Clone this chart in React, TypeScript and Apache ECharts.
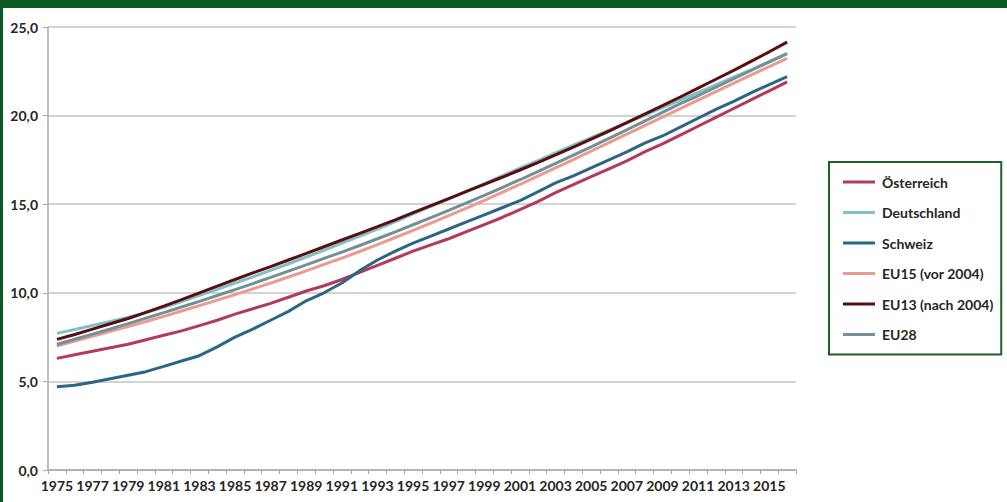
import React, { useEffect, useRef } from "react";
import * as echarts from "echarts";

const years: string[] = [];
for (let y = 1975; y <= 2016; y++) years.push(String(y));

const yTicks = ["0,0", "5,0", "10,0", "15,0", "20,0", "25,0"];

const oesterreich = [6.3, 6.5, 6.7, 6.9, 7.1, 7.35, 7.6, 7.85, 8.15, 8.45, 8.8, 9.1, 9.4, 9.75, 10.1, 10.4, 10.75, 11.15, 11.55, 11.95, 12.35, 12.7, 13.05, 13.45, 13.85, 14.25, 14.7, 15.15, 15.65, 16.1, 16.55, 17.0, 17.45, 17.95, 18.4, 18.9, 19.4, 19.9, 20.4, 20.9, 21.4, 21.9];
const deutschland = [7.71, 7.93, 8.15, 8.38, 8.62, 8.88, 9.18, 9.5, 9.85, 10.2, 10.55, 10.9, 11.27, 11.64, 12.02, 12.4, 12.8, 13.2, 13.6, 14.02, 14.45, 14.88, 15.3, 15.73, 16.16, 16.6, 17.03, 17.46, 17.9, 18.33, 18.76, 19.18, 19.6, 20.02, 20.45, 20.88, 21.3, 21.73, 22.17, 22.6, 23.05, 23.5];
const schweiz = [4.7, 4.78, 4.95, 5.15, 5.35, 5.55, 5.85, 6.15, 6.45, 6.95, 7.5, 7.95, 8.45, 8.95, 9.55, 10.0, 10.55, 11.25, 11.85, 12.35, 12.8, 13.2, 13.6, 14.0, 14.4, 14.8, 15.2, 15.7, 16.2, 16.6, 17.05, 17.5, 17.95, 18.45, 18.85, 19.35, 19.85, 20.35, 20.8, 21.3, 21.75, 22.2];
const eu15 = [7.0, 7.27, 7.54, 7.82, 8.1, 8.38, 8.67, 8.97, 9.28, 9.59, 9.9, 10.22, 10.55, 10.89, 11.24, 11.6, 11.96, 12.33, 12.72, 13.12, 13.52, 13.93, 14.35, 14.78, 15.22, 15.67, 16.12, 16.58, 17.05, 17.52, 17.99, 18.47, 18.95, 19.43, 19.91, 20.39, 20.87, 21.35, 21.83, 22.3, 22.77, 23.23];
const eu13 = [7.37, 7.65, 7.95, 8.25, 8.55, 8.9, 9.25, 9.62, 10.0, 10.38, 10.75, 11.12, 11.48, 11.85, 12.22, 12.6, 12.98, 13.35, 13.73, 14.12, 14.52, 14.92, 15.32, 15.72, 16.12, 16.52, 16.93, 17.35, 17.78, 18.22, 18.67, 19.13, 19.6, 20.08, 20.56, 21.05, 21.55, 22.05, 22.55, 23.07, 23.6, 24.15];
const eu28 = [7.1, 7.38, 7.67, 7.96, 8.26, 8.57, 8.88, 9.2, 9.52, 9.85, 10.18, 10.52, 10.87, 11.22, 11.58, 11.94, 12.3, 12.67, 13.05, 13.44, 13.84, 14.24, 14.65, 15.07, 15.5, 15.94, 16.38, 16.84, 17.3, 17.77, 18.24, 18.72, 19.2, 19.69, 20.18, 20.68, 21.12, 21.6, 22.08, 22.56, 23.03, 23.5];

const seriesNames = ["Österreich", "Deutschland", "Schweiz", "EU15 (vor 2004)", "EU13 (nach 2004)", "EU28"];
const seriesData = [oesterreich, deutschland, schweiz, eu15, eu13, eu28];
const seriesColors = ["#b23a5c", "#80c0c8", "#2c6686", "#eb9a8e", "#5a0f0c", "#70909a"];

export default function App() {
  const ref = useRef<HTMLDivElement>(null);
  useEffect(() => {
    if (!ref.current) return;
    const chart = echarts.init(ref.current, undefined, { renderer: "svg" });
    const font = "Lato, 'Open Sans', sans-serif";
    chart.setOption({
      animation: false,
      backgroundColor: "#ffffff",
      textStyle: { fontFamily: font },
      grid: { left: 48, right: 211, top: 27, bottom: 32, containLabel: false },
      graphic: [
        { type: "rect", left: 0, top: 0, shape: { width: 1007, height: 8 }, style: { fill: "#0b5a23" }, z: 100 },
        { type: "rect", left: 0, top: 0, shape: { width: 3, height: 502 }, style: { fill: "#0b5a23" }, z: 100 },
      ],
      legend: {
        orient: "vertical",
        left: 829,
        top: 162,
        padding: [12, 8, 12, 14],
        itemGap: 14.5,
        itemWidth: 32,
        itemHeight: 3,
        icon: "rect",
        borderColor: "#1f5f2a",
        borderWidth: 2,
        backgroundColor: "#ffffff",
        data: seriesNames,
        textStyle: { fontFamily: font, fontSize: 14, fontWeight: "bold", color: "#262626", lineHeight: 16, padding: [0, 0, 0, 2] },
      },
      xAxis: {
        type: "category",
        data: years,
        boundaryGap: true,
        axisLine: { lineStyle: { color: "#a8a8a8", width: 1.5 } },
        axisTick: { show: true, length: 4, interval: 0, lineStyle: { color: "#a8a8a8" } },
        axisLabel: {
          interval: (index: number) => index % 2 === 0,
          showMinLabel: true,
          showMaxLabel: true,
          hideOverlap: false,
          margin: 8,
          fontFamily: font,
          fontSize: 14,
          fontWeight: "bold",
          color: "#262626",
        },
      },
      yAxis: {
        type: "value",
        min: 0,
        max: 25,
        interval: 5,
        axisLine: { show: true, lineStyle: { color: "#a8a8a8", width: 1.5 } },
        axisTick: { show: true, length: 5, lineStyle: { color: "#a8a8a8" } },
        splitLine: { lineStyle: { color: "#c4c4c4", width: 1.5 } },
        axisLabel: {
          margin: 10,
          fontFamily: font,
          fontSize: 14,
          fontWeight: "bold",
          color: "#262626",
          formatter: (v: number) => yTicks[Math.round(v / 5)] ?? "",
        },
      },
      series: seriesNames.map((name, i) => ({
        name,
        type: "line",
        data: seriesData[i],
        symbol: "none",
        smooth: false,
        lineStyle: { width: 3, color: seriesColors[i] },
        itemStyle: { color: seriesColors[i] },
      })),
    });
    return () => chart.dispose();
  }, []);
  return <div ref={ref} style={{ position: "fixed", left: 0, top: 0, width: 1007, height: 502 }} />;
}
